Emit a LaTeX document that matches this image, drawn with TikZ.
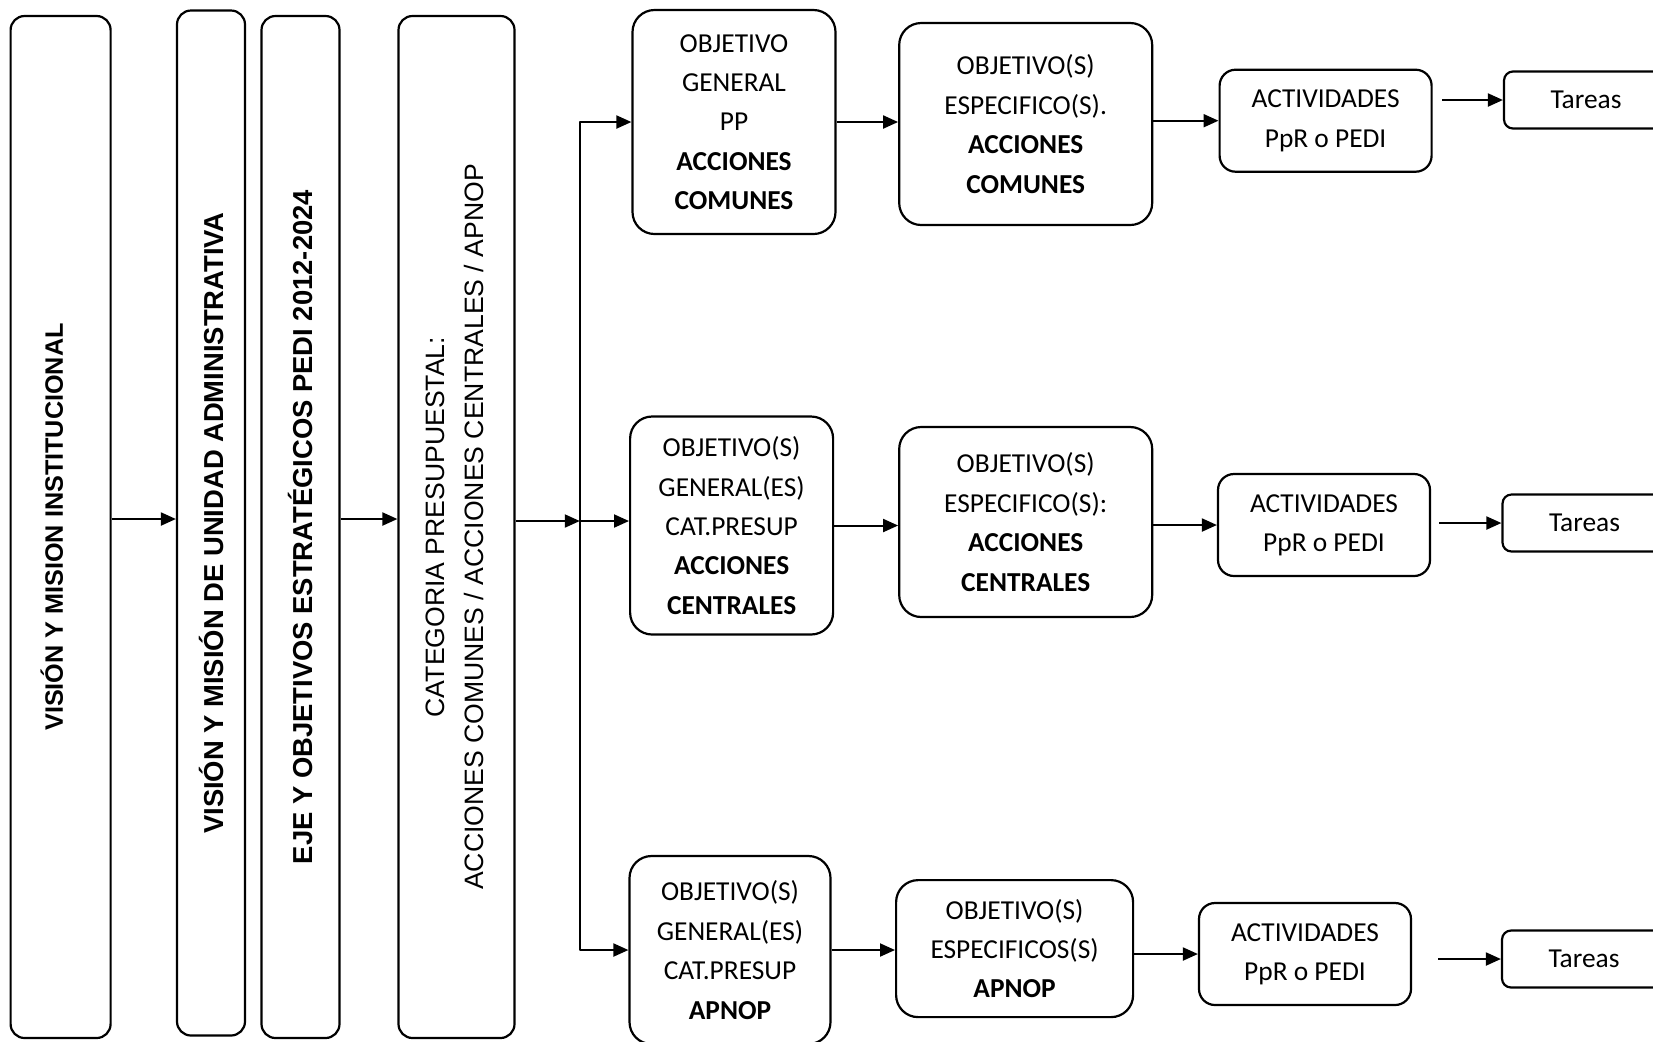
\documentclass[tikz,border=0pt]{standalone}
\usepackage{fontspec}
\setmainfont{Carlito}
\newfontfamily\arialfont{Liberation Sans}
\usetikzlibrary{arrows.meta}

\begin{document}
\begin{tikzpicture}[x=0.5pt, y=-0.5pt, line join=round, >={Triangle[length=7.5pt,width=6.5pt]},
	box/.style={draw, line width=1.1pt, inner sep=0pt, align=center},
	bar/.style={box, rounded corners=7pt},
	objbox/.style={box, rounded corners=11pt, font=\fontsize{13.7}{19.7}\selectfont},
	actbox/.style={box, rounded corners=8pt, font=\fontsize{13.7}{19.7}\selectfont},
	tarbox/.style={box, rounded corners=4.5pt, font=\fontsize{13.7}{19.7}\selectfont},
	link/.style={->, line width=1pt}]
	\clip (0,0) rectangle (1653,1041);
	% columnas verticales
	\node[bar, minimum width=50pt, minimum height=511pt] (vmi) at (60.6,527)
		{\rotatebox{90}{\raisebox{9pt}{\arialfont\bfseries\fontsize{12.6}{15}\selectfont VISIÓN Y MISION INSTITUCIONAL}}};
	\node[bar, minimum width=34pt, minimum height=512.5pt] (vmu) at (211,523)
		{\rotatebox{90}{\arialfont\bfseries\fontsize{13.7}{16}\selectfont VISIÓN Y MISIÓN DE UNIDAD ADMINISTRATIVA}};
	\node[bar, minimum width=39pt, minimum height=511pt] (eje) at (300.5,527)
		{\rotatebox{90}{\arialfont\bfseries\fontsize{13.7}{16}\selectfont EJE Y OBJETIVOS ESTRATÉGICOS PEDI 2012-2024}};
	\node[bar, minimum width=58pt, minimum height=511pt] (cat) at (456.5,527)
		{\rotatebox{90}{\arialfont\fontsize{13.3}{19.5}\selectfont\begin{tabular}{@{}c@{}}CATEGORIA PRESUPUESTAL:\\ACCIONES COMUNES / ACCIONES CENTRALES / APNOP\end{tabular}}};
	\coordinate (lev) at (0,519);
	\coordinate (fork) at (579.8,521);
	% objetivos generales y especificos
	\node[objbox, minimum width=101.5pt, minimum height=112pt] (ogcom) at (734,122)
		{OBJETIVO\\GENERAL\\PP\\\textbf{ACCIONES}\\\textbf{COMUNES}};
	\node[objbox, minimum width=126.5pt, minimum height=101pt] (oecom) at (1025.7,124)
		{OBJETIVO(S)\\ESPECIFICO(S).\\\textbf{ACCIONES}\\\textbf{COMUNES}};
	\node[objbox, minimum width=101.5pt, minimum height=109pt] (ogcen) at (731.6,525.5)
		{OBJETIVO(S)\\GENERAL(ES)\\CAT.PRESUP\\\textbf{ACCIONES}\\\textbf{CENTRALES}};
	\node[objbox, minimum width=126.5pt, minimum height=95pt] (oecen) at (1025.7,522)
		{OBJETIVO(S)\\ESPECIFICO(S):\\\textbf{ACCIONES}\\\textbf{CENTRALES}};
	\node[objbox, minimum width=100.5pt, minimum height=94pt] (ogapn) at (730,950)
		{OBJETIVO(S)\\GENERAL(ES)\\CAT.PRESUP\\\textbf{APNOP}};
	\node[objbox, minimum width=118.5pt, minimum height=68.5pt] (oeapn) at (1014.6,948.6)
		{OBJETIVO(S)\\ESPECIFICOS(S)\\\textbf{APNOP}};
	% actividades y tareas
	\foreach \r/\x/\y in {com/1325.6/120.7, cen/1324/525, apn/1305/954}
		\node[actbox, minimum width=106pt, minimum height=51pt] (act\r) at (\x,\y) {ACTIVIDADES\\PpR o PEDI};
	\foreach \r/\x/\y in {com/1586/100, cen/1584.5/523, apn/1584/959}
		\node[tarbox, minimum width=82pt, minimum height=28.5pt] (tar\r) at (\x,\y) {Tareas};
	% conectores
	\draw[link] (vmi.east |- lev) -- (vmu.west |- lev);
	\draw[link] (eje.east |- lev) -- (cat.west |- lev);
	\draw[link] (cat.east |- fork) -- (fork);
	\draw[link] (fork) |- (ogcom.west);
	\draw[link] (fork) -- (fork -| ogcen.west);
	\draw[link] (fork) |- (ogapn.west);
	\foreach \r in {com,cen,apn}{
		\draw[link] (og\r.east) -- (og\r.east -| oe\r.west);
		\draw[link] (oe\r.east |- act\r.west) -- (act\r.west);
	}
	\foreach \r/\s in {com/4.7pt, cen/4pt, apn/13pt}
		\draw[link, shorten <=\s] (act\r.east |- tar\r.west) -- (tar\r.west);
\end{tikzpicture}
\end{document}
